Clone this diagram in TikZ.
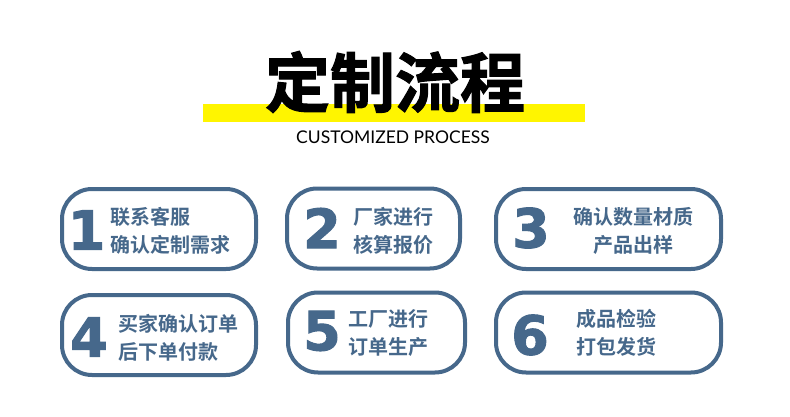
\documentclass[tikz,border=0pt]{standalone}
\usepackage{fontspec}
\setmainfont{Noto Sans CJK SC}[BoldFont=* Bold]
\newfontfamily\titlefont{Noto Sans CJK SC}[UprightFont=* Bold,FakeBold=1.6]
\newfontfamily\latinfont{Lato}
\newfontfamily\digitfont{DejaVu Sans}[UprightFont=* Bold,FakeBold=1.8]
\definecolor{steel}{RGB}{70,104,139}
\definecolor{marker}{RGB}{255,245,0}

\begin{document}
\begin{tikzpicture}[x=1pt,y=-1pt,
    stepbox/.style={draw=steel,line width=4pt,rounded corners=30pt,minimum height=80pt},
    stepnum/.style={text=steel,inner sep=0pt,font=\digitfont\fontsize{54}{54}\selectfont},
    steptext/.style={text=steel,inner sep=0pt,font=\bfseries\fontsize{20}{28}\selectfont}]
  \useasboundingbox[fill=white] (0,0) rectangle (790,417);
  % title
  \fill[marker] (203,104) rectangle (585,122);
  \node[inner sep=0pt,font=\titlefont\fontsize{65}{65}\selectfont] (title) at (395,82) {定制流程};
  \node[inner sep=0pt,font=\latinfont\fontsize{17.5}{17.5}\selectfont] (sub) at (393,137) {CUSTOMIZED PROCESS};
  % first row
  \node[stepbox,minimum width=194pt] (box1) at (159,229) {};
  \node[stepnum] (n1) at (86.5,230) {1};
  \node[steptext,anchor=west,align=left] (t1) at (110,231) {联系客服\\确认定制需求};
  \node[stepbox,minimum width=173pt] (box2) at (373.5,228.5) {};
  \node[stepnum] (n2) at (322,228) {2};
  \node[steptext,anchor=west,align=left] (t2) at (353,231) {厂家进行\\核算报价};
  \node[stepbox,minimum width=225pt] (box3) at (608.5,229) {};
  \node[stepnum] (n3) at (531,228) {3};
  \node[steptext,align=center] (t3) at (633,231) {确认数量材质\\产品出样};
  % second row
  \node[stepbox,minimum width=194pt] (box4) at (159,335) {};
  \node[stepnum] (n4) at (89,337) {4};
  \node[steptext,anchor=west,align=left] (t4) at (118,338) {买家确认订单\\后下单付款};
  \node[stepbox,minimum width=177pt] (box5) at (376.5,332.5) {};
  \node[stepnum] (n5) at (322,331) {5};
  \node[steptext,anchor=west,align=left] (t5) at (348,333) {工厂进行\\订单生产};
  \node[stepbox,minimum width=225pt] (box6) at (608.5,332.5) {};
  \node[stepnum] (n6) at (530,335) {6};
  \node[steptext,anchor=west,align=left] (t6) at (576,333) {成品检验\\打包发货};
\end{tikzpicture}
\end{document}
